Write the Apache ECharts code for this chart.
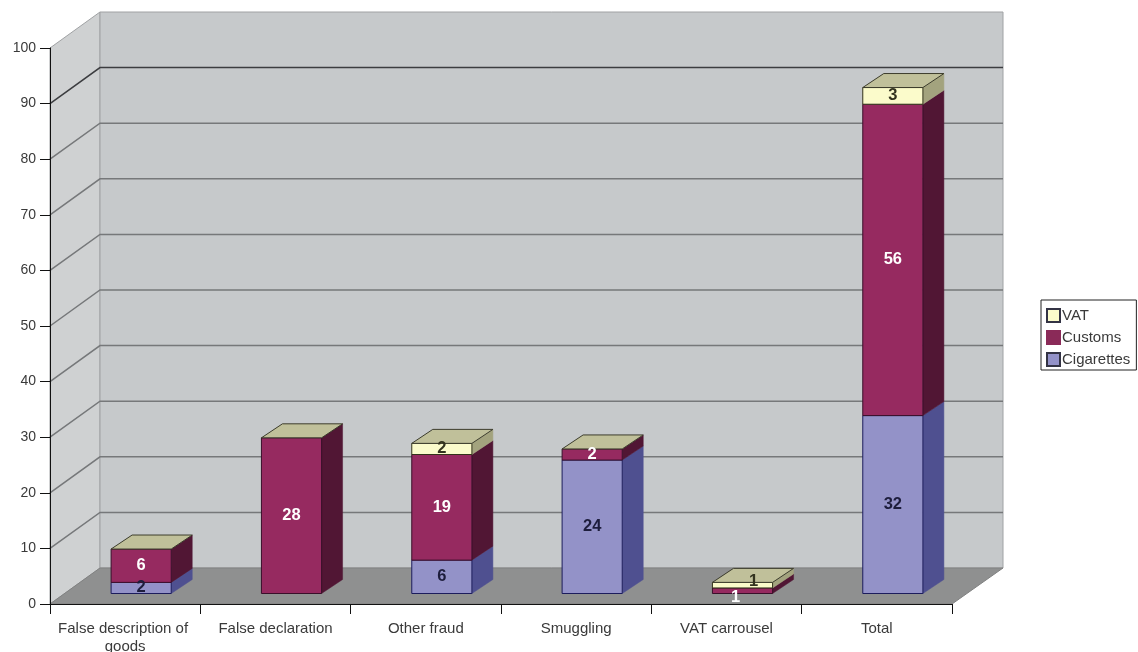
<!DOCTYPE html>
<html><head><meta charset="utf-8">
<style>html,body{margin:0;padding:0;background:#fff}#c{width:1138px;height:652px}</style>
<script src="https://cdn.jsdelivr.net/npm/echarts@6/dist/echarts.min.js"></script>
</head><body><div id="c"></div>
<script>
const categories = ['False description of goods','False declaration','Other fraud','Smuggling','VAT carrousel','Total'];
const cigarettes = [2,0,6,24,0,32];
const customs = [6,28,19,2,1,56];
const vat = [0,0,2,0,1,3];
const yTicks = [10,20,30,40,50,60,70,80,90];

const stackOrder = [cigarettes, customs, vat];
const palette = [
  {front:'#9392c8', side:'#4f5090', edge:'#1c1c5c', label:'#1d1d3c'},
  {front:'#962a60', side:'#511634', edge:'#3a0f2a', label:'#ffffff'},
  {front:'#fbfbcb', side:'#a3a37e', edge:'#33331a', label:'#33331f'}
];
const WALL = [50,-36], DEPTH = [21,-14], SHIFT = [16,-10.5];
const labelNudge = {'4-1':[-7,7], '4-2':[11,-4]};
const FONT = '"Liberation Sans", Arial, sans-serif';

function wallItem(params, api){
  const cs = params.coordSys;
  const x0 = cs.x, x1 = cs.x + cs.width;
  const yOf = v => api.coord([0,v])[1];
  const y0 = yOf(0), yTop = yOf(100);
  const bx0 = x0+WALL[0], bx1 = x1+WALL[0]+1, by = WALL[1];
  const kids = [
    {type:'polygon', shape:{points:[[x0,yTop],[bx0,yTop+by],[bx0,y0+by],[x0,y0]]}, style:{fill:'#cfd1d2', stroke:'#a0a2a4', lineWidth:1}},
    {type:'rect', shape:{x:bx0,y:yTop+by,width:bx1-bx0,height:y0-yTop}, style:{fill:'#c6c9cb', stroke:'#a0a2a4', lineWidth:1}},
    {type:'polygon', shape:{points:[[x0,y0],[bx0,y0+by],[bx1,y0+by],[x1,y0]]}, style:{fill:'#8f9090', stroke:'#808181', lineWidth:1}}
  ];
  yTicks.forEach(v=>{
    const y = yOf(v);
    const col = v===90 ? '#3c3d40' : '#76787a';
    kids.push({type:'polyline', shape:{points:[[x0,y],[bx0,y+by],[bx1,y+by]]}, style:{fill:null, stroke:col, lineWidth:1.5}});
  });
  return {type:'group', children:kids};
}

function barItem(level){
  return function(params, api){
    const i = api.value(0), v = api.value(1);
    if(!v) return null;
    let base = 0, total = 0;
    stackOrder.forEach((arr,k)=>{ if(k<level) base += arr[i]; total += arr[i]; });
    const bw = api.size([1,0])[0]*0.4;
    const c0 = api.coord([i,base]), c1 = api.coord([i,base+v]);
    const xl = c0[0]+SHIFT[0]-bw/2, xr = xl+bw;
    const yb = c0[1]+SHIFT[1], yt = c1[1]+SHIFT[1];
    const p = palette[level], dx = DEPTH[0], dy = DEPTH[1];
    const kids = [
      {type:'polygon', z2:level, shape:{points:[[xr,yb],[xr+dx,yb+dy],[xr+dx,yt+dy],[xr,yt]]}, style:{fill:p.side, stroke:p.side, lineWidth:0.5}},
      {type:'rect', z2:level, shape:{x:xl,y:yt,width:bw,height:yb-yt}, style:{fill:p.front, stroke:p.edge, lineWidth:1}}
    ];
    if(base+v===total){
      kids.push({type:'polygon', z2:level, shape:{points:[[xl,yt],[xl+dx,yt+dy],[xr+dx,yt+dy],[xr,yt]]}, style:{fill:'#c0c09a', stroke:'#3c3c2c', lineWidth:1}});
    }
    const n = labelNudge[i+'-'+level] || [0,0];
    kids.push({type:'text', z2:10, style:{text:String(v), x:(xl+xr)/2+n[0], y:(yt+yb)/2+n[1], fill:p.label, align:'center', verticalAlign:'middle', font:'bold 16.5px '+FONT}});
    return {type:'group', children:kids};
  };
}

const chart = echarts.init(document.getElementById('c'), null, {renderer:'canvas'});
chart.setOption({
  animation:false,
  backgroundColor:'#fff',
  grid:{left:50, top:48, width:902, height:556, containLabel:false, outerBoundsMode:'none'},
  xAxis:{type:'category', data:categories,
    axisLine:{lineStyle:{color:'#111', width:1}},
    axisTick:{show:true, length:10, lineStyle:{color:'#111'}},
    axisLabel:{show:true, interval:0, margin:16, color:'#3a3a3a', fontSize:15, lineHeight:18, width:146, overflow:'break', fontFamily:FONT},
    splitLine:{show:false}},
  yAxis:{type:'value', min:0, max:100, interval:10,
    axisLine:{show:true, lineStyle:{color:'#111', width:1}},
    axisTick:{show:true, length:10, lineStyle:{color:'#111'}},
    axisLabel:{margin:14, color:'#3a3a3a', fontSize:14, fontFamily:FONT},
    splitLine:{show:false}},
  legend:{orient:'vertical', left:1041, top:300, padding:[8,6,3,5], itemGap:7, itemWidth:13, itemHeight:13, icon:'rect',
    borderColor:'#222', borderWidth:1, backgroundColor:'#fff',
    data:['VAT','Customs','Cigarettes'],
    textStyle:{color:'#3a3a3a', fontSize:15, padding:[0,0,0,-3], fontFamily:FONT}},
  series:[
    {type:'custom', silent:true, z:-1, clip:false, renderItem:wallItem, data:[[0,0]], encode:{x:0,y:1}, legendHoverLink:false},
    {type:'custom', name:'Cigarettes', z:2, clip:false, renderItem:barItem(0), itemStyle:{color:palette[0].front, borderColor:'#334', borderWidth:1},
      data:cigarettes.map((v,i)=>[i,v]), encode:{x:0,y:1}},
    {type:'custom', name:'Customs', z:2, clip:false, renderItem:barItem(1), itemStyle:{color:'#8a2a58', borderColor:'#8a2a58', borderWidth:1},
      data:customs.map((v,i)=>[i,v]), encode:{x:0,y:1}},
    {type:'custom', name:'VAT', z:2, clip:false, renderItem:barItem(2), itemStyle:{color:palette[2].front, borderColor:'#334', borderWidth:1.5},
      data:vat.map((v,i)=>[i,v]), encode:{x:0,y:1}}
  ]
});
</script></body></html>
